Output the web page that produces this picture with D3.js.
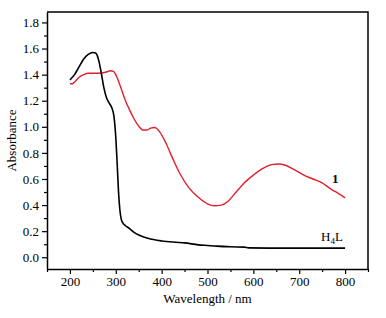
<!DOCTYPE html>
<html>
<head>
<meta charset="utf-8">
<script src="https://cdn.jsdelivr.net/npm/d3@7"></script>
<style>
body { margin: 0; background: #fff; }
text { font-family: "Liberation Serif", "DejaVu Serif", serif; }
</style>
</head>
<body>
<script>
var width = 386;
var height = 318;

// H4L (black)
var ligandWl  = [200, 210, 220, 230, 240, 250, 256, 262, 268, 274, 280, 286, 292, 296, 300, 303, 306, 309, 312, 316, 320, 330, 340, 350, 370, 400, 430, 450, 480, 500, 520, 550, 580, 590, 650, 700, 800];
var ligandAbs = [1.36, 1.40, 1.46, 1.52, 1.555, 1.57, 1.565, 1.52, 1.42, 1.30, 1.22, 1.18, 1.14, 1.08, 0.92, 0.72, 0.50, 0.36, 0.29, 0.26, 0.245, 0.22, 0.19, 0.17, 0.145, 0.125, 0.115, 0.11, 0.095, 0.09, 0.085, 0.08, 0.078, 0.072, 0.07, 0.07, 0.07];

// complex 1 (red)
var complexWl  = [200, 205, 212, 220, 230, 240, 260, 280, 288, 295, 300, 310, 320, 330, 340, 350, 360, 368, 376, 385, 395, 410, 425, 440, 460, 480, 500, 515, 530, 545, 560, 580, 600, 620, 640, 655, 670, 690, 710, 730, 750, 770, 785, 800];
var complexAbs = [1.33, 1.33, 1.35, 1.38, 1.40, 1.41, 1.41, 1.42, 1.43, 1.425, 1.40, 1.31, 1.21, 1.13, 1.06, 1.005, 0.975, 0.975, 0.99, 0.995, 0.965, 0.87, 0.75, 0.64, 0.53, 0.46, 0.41, 0.395, 0.40, 0.43, 0.49, 0.57, 0.63, 0.68, 0.71, 0.715, 0.705, 0.67, 0.63, 0.60, 0.57, 0.52, 0.49, 0.455];

var xTicks = [200, 300, 400, 500, 600, 700, 800];
var yTicks = [0.0, 0.2, 0.4, 0.6, 0.8, 1.0, 1.2, 1.4, 1.6, 1.8];

var margin = {left: 47, right: 18, top: 12, bottom: 49};

var svg = d3.select("body")
.append("svg")
.attr("width", width)
.attr("height", height);

var x = d3.scaleLinear()
      .domain([150, 850])
      .range([margin.left, width - margin.right]);

var y = d3.scaleLinear()
      .domain([-0.09, 1.88])
      .range([height - margin.bottom, margin.top]);

var plotW = width - margin.left - margin.right;
var plotH = height - margin.top - margin.bottom;

// frame top + right
svg.append("path")
   .attr("d", "M" + margin.left + "," + margin.top + "H" + (width - margin.right) + "V" + (height - margin.bottom))
   .attr("fill", "none")
   .attr("stroke", "#000")
   .attr("stroke-width", 1.5);

// minor ticks
var xMinor = d3.range(150, 851, 50).filter(function(v){ return v % 100 != 0; });
var yMinor = d3.range(-0.1, 1.91, 0.2).map(function(v){ return +v.toFixed(1); });

svg.append("g")
   .attr("transform", "translate(0," + (height - margin.bottom) + ")")
   .call(d3.axisBottom(x).tickValues(xMinor).tickSize(3).tickFormat(""))
   .call(function(g){ g.select(".domain").remove(); g.selectAll("line").attr("stroke-width", 1.2); });

svg.append("g")
   .attr("transform", "translate(" + margin.left + ",0)")
   .call(d3.axisLeft(y).tickValues(yMinor.filter(function(v){ return v > -0.09 && v < 1.88; })).tickSize(3).tickFormat(""))
   .call(function(g){ g.select(".domain").remove(); g.selectAll("line").attr("stroke-width", 1.2); });

// major axes
var xAxis = svg.append("g")
   .attr("transform", "translate(0," + (height - margin.bottom) + ")")
   .call(d3.axisBottom(x).tickValues(xTicks).tickSize(5).tickSizeOuter(0).tickPadding(3));

var yAxis = svg.append("g")
   .attr("transform", "translate(" + margin.left + ",0)")
   .call(d3.axisLeft(y).tickValues(yTicks).tickSize(5).tickSizeOuter(0).tickPadding(3).tickFormat(d3.format(".1f")));

[xAxis, yAxis].forEach(function(g){
   g.select(".domain").attr("stroke-width", 1.5);
   g.selectAll("line").attr("stroke-width", 1.2);
   g.selectAll("text")
    .style("font-family", "'Liberation Serif', serif")
    .style("font-size", "13px")
    .attr("fill", "#000");
});

var line = d3.line()
   .x(function(d){ return x(d[0]); })
   .y(function(d){ return y(d[1]); })
   .curve(d3.curveMonotoneX);

svg.append("path")
   .datum(complexWl.map(function(v, i){ return [v, complexAbs[i]]; }))
   .attr("d", line)
   .attr("fill", "none")
   .attr("stroke", "#e0202a")
   .attr("stroke-width", 1.4);

svg.append("path")
   .datum(ligandWl.map(function(v, i){ return [v, ligandAbs[i]]; }))
   .attr("d", line)
   .attr("fill", "none")
   .attr("stroke", "#000")
   .attr("stroke-width", 1.6);

// labels
svg.append("text")
   .attr("x", 332)
   .attr("y", 183)
   .style("font-size", "13px")
   .style("font-weight", "bold")
   .text("1");

var h4l = svg.append("text")
   .attr("x", 321)
   .attr("y", 241)
   .style("font-size", "13px");
h4l.append("tspan").text("H");
h4l.append("tspan").attr("dy", 3).style("font-size", "9px").text("4");
h4l.append("tspan").attr("dy", -3).text("L");

svg.append("text")
   .attr("x", margin.left + plotW / 2)
   .attr("y", 303)
   .attr("text-anchor", "middle")
   .style("font-size", "13px")
   .text("Wavelength / nm");

svg.append("text")
   .attr("transform", "translate(16," + (margin.top + plotH / 2) + ") rotate(-90)")
   .attr("text-anchor", "middle")
   .style("font-size", "13px")
   .text("Absorbance");
</script>
</body>
</html>
